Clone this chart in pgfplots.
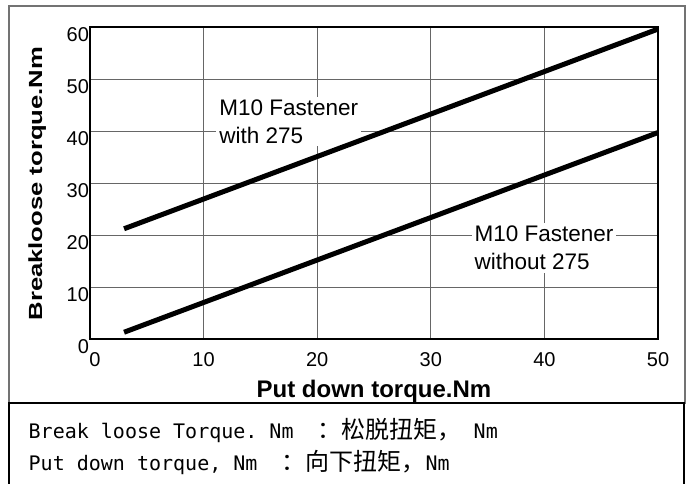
\documentclass[border=0pt]{standalone}
\usepackage{pgfplots}
\pgfplotsset{compat=1.18}
\usepackage{fontspec}
\setmainfont{Liberation Sans}
\newfontfamily\cjk{Noto Sans CJK SC}
\newfontfamily\monof{DejaVu Sans Mono}

\begin{document}
\begin{tikzpicture}
\useasboundingbox (0,0) rectangle (693bp,484bp);
% frames
\draw[black!55, line width=1.2bp] (9bp,81bp) rectangle (685bp,478bp);
\draw[black, line width=1.8bp] (9bp,-5bp) rectangle (684bp,81bp);

\begin{axis}[
    at={(90bp,145bp)}, anchor=south west,
    scale only axis, width=568bp, height=312bp,
    xmin=0, xmax=50, ymin=0, ymax=60,
    xtick={0,10,...,50}, ytick={0,10,...,60},
    xticklabels={\hspace*{10bp}0,10,20,30,40,50},
    grid=major,
    major grid style={black!60, line width=0.9bp},
    tick style={draw=none},
    axis line style={line width=1.3bp},
    /pgf/number format/assume math mode=true,
    ticklabel style={font=\fontsize{20bp}{22bp}\selectfont},
    yticklabel style={yshift=-8bp, xshift=2.5bp},
    xticklabel style={yshift=-10bp},
    xlabel={Put down torque.Nm},
    ylabel={\scalebox{1.35}[1]{Breakloose torque.Nm}},
    xlabel style={font=\bfseries\fontsize{24bp}{26bp}\selectfont,
                  at={(axis description cs:0.5,-0.186)}, anchor=base},
    ylabel style={font=\bfseries\fontsize{19bp}{22bp}\selectfont,
                  at={(axis description cs:-0.093,0.498)}, anchor=center},
  ]
\node[fill=white, align=left, anchor=north west, inner sep=3bp,
      font=\fontsize{22.5bp}{28bp}\selectfont] at (axis cs:11.1,46.67) {M10 Fastener\\with 275};
\node[fill=white, align=left, anchor=north west, inner sep=3bp,
      font=\fontsize{22.5bp}{28bp}\selectfont] at (axis cs:33.57,22.33) {M10 Fastener\\without 275};

\addplot[line width=5bp] coordinates {(3,21.2) (50,59.6)};
\addplot[line width=5bp] coordinates {(3,1.3) (50,39.7)};
\end{axis}

\node[anchor=base west, inner sep=0pt, font=\fontsize{20bp}{22bp}\selectfont]
  at (28.5bp,45.7bp) {\frenchspacing\monof Break loose Torque. Nm\ \ {\fontsize{24bp}{26bp}\selectfont\cjk ：松脱扭矩，}\ Nm};
\node[anchor=base west, inner sep=0pt, font=\fontsize{20bp}{22bp}\selectfont]
  at (28.5bp,14bp) {\frenchspacing\monof Put down torque, Nm\ \ {\fontsize{24bp}{26bp}\selectfont\cjk ：向下扭矩，}Nm};
\end{tikzpicture}
\end{document}
